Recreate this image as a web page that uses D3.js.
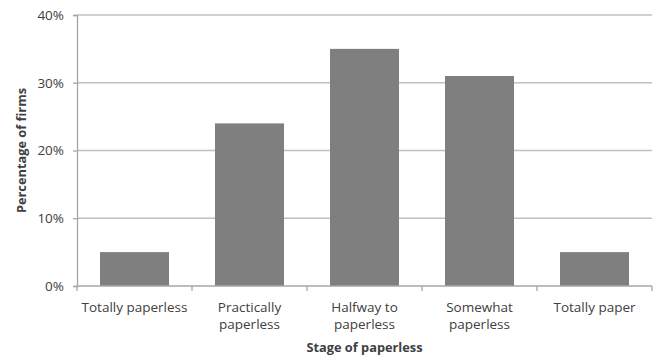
<!DOCTYPE html>
<html>
<head>
<meta charset="utf-8">
<script src="https://cdn.jsdelivr.net/npm/d3@7"></script>
<style>
  body { margin: 0; background: #fff; }
  svg text { font-family: "Open Sans", sans-serif; fill: #404040; }
</style>
</head>
<body>
<svg id="chart" width="660" height="358"></svg>
<script>
// data
var categories = ["Totally paperless", "Practically\npaperless", "Halfway to\npaperless", "Somewhat\npaperless", "Totally paper"];
var shares = [5, 24, 35, 31, 5];
var yTicks = [0, 10, 20, 30, 40];

var svg = d3.select("#chart");
var margin = {top: 15, right: 8, bottom: 72, left: 77};
var w = 660 - margin.left - margin.right;
var h = 358 - margin.top - margin.bottom;

var g = svg.append("g")
  .attr("transform", "translate(" + margin.left + "," + margin.top + ")");

var x = d3.scaleBand()
  .domain(categories)
  .range([0, w])
  .paddingInner(0.4)
  .paddingOuter(0.2);

var y = d3.scaleLinear()
  .domain([0, 40])
  .range([h, 0]);

// gridlines
g.selectAll(".grid")
  .data(yTicks.slice(1))
  .enter().append("line")
  .attr("class", "grid")
  .attr("x1", 0)
  .attr("x2", w)
  .attr("y1", function(d) { return y(d); })
  .attr("y2", function(d) { return y(d); })
  .attr("stroke", "#c0c0c0")
  .attr("stroke-width", 1.3);

// bars
g.selectAll(".bar")
  .data(shares)
  .enter().append("rect")
  .attr("class", "bar")
  .attr("x", function(d, i) { return x(categories[i]); })
  .attr("y", function(d) { return y(d); })
  .attr("width", x.bandwidth())
  .attr("height", function(d) { return h - y(d); })
  .attr("fill", "#7f7f7f");

// y axis
var yAxis = g.append("g")
  .call(d3.axisLeft(y).tickValues(yTicks).tickSize(4).tickPadding(9)
    .tickFormat(function(d) { return d + "%"; }));
yAxis.select(".domain").attr("stroke", "#a6a6a6").attr("stroke-width", 1.3);
yAxis.selectAll(".tick line").attr("stroke", "#a6a6a6").attr("stroke-width", 1.3);
yAxis.selectAll("text")
  .style("font-size", "13.5px")
  .style("fill", "#404040");

// x axis: line plus ticks at category boundaries
var xAxis = g.append("g").attr("transform", "translate(0," + h + ")");
xAxis.append("line")
  .attr("x1", 0).attr("x2", w)
  .attr("stroke", "#a6a6a6").attr("stroke-width", 1.3);
var bounds = d3.range(categories.length + 1).map(function(i) { return i * x.step(); });
xAxis.selectAll(".xt")
  .data(bounds)
  .enter().append("line")
  .attr("class", "xt")
  .attr("x1", function(d) { return d; })
  .attr("x2", function(d) { return d; })
  .attr("y1", 0).attr("y2", 5)
  .attr("stroke", "#a6a6a6").attr("stroke-width", 1.3);

var labels = xAxis.selectAll(".xl")
  .data(categories)
  .enter().append("text")
  .attr("class", "xl")
  .attr("text-anchor", "middle")
  .attr("transform", function(d) { return "translate(" + (x(d) + x.bandwidth() / 2) + ",26)"; })
  .style("font-size", "13.5px");
labels.selectAll("tspan")
  .data(function(d) { return d.split("\n"); })
  .enter().append("tspan")
  .attr("x", 0)
  .attr("dy", function(d, i) { return i ? 17 : 0; })
  .text(function(d) { return d; });

// axis titles
svg.append("text")
  .attr("x", margin.left + w / 2)
  .attr("y", 352)
  .attr("text-anchor", "middle")
  .style("font-size", "12.8px")
  .style("font-weight", "bold")
  .text("Stage of paperless");

svg.append("text")
  .attr("transform", "translate(26," + (margin.top + h / 2) + ") rotate(-90)")
  .attr("text-anchor", "middle")
  .style("font-size", "12.8px")
  .style("font-weight", "bold")
  .text("Percentage of firms");
</script>
</body>
</html>
